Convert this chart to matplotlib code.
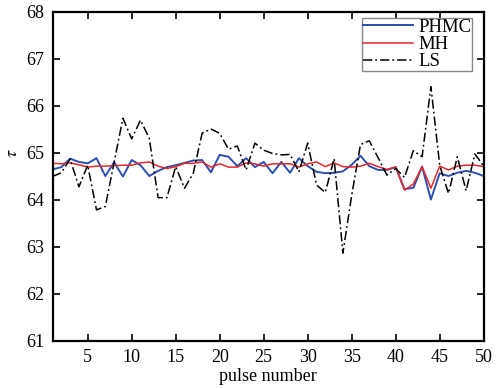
import matplotlib
matplotlib.use("Agg")
import matplotlib.pyplot as plt
import numpy as np

pulse = list(range(1, 51))

phmc = [64.65, 64.70, 64.88, 64.81, 64.78, 64.89, 64.51, 64.80, 64.50, 64.85,
        64.74, 64.51, 64.62, 64.70, 64.74, 64.79, 64.84, 64.85, 64.59, 64.96,
        64.92, 64.72, 64.89, 64.70, 64.81, 64.57, 64.81, 64.58, 64.89, 64.72,
        64.60, 64.57, 64.58, 64.61, 64.75, 64.94, 64.72, 64.64, 64.64, 64.70,
        64.23, 64.26, 64.71, 64.01, 64.57, 64.51, 64.58, 64.62, 64.58, 64.51]

mh = [64.78, 64.77, 64.79, 64.75, 64.70, 64.72, 64.72, 64.73, 64.74, 64.74,
      64.79, 64.81, 64.72, 64.67, 64.71, 64.78, 64.78, 64.81, 64.70, 64.77,
      64.70, 64.70, 64.79, 64.77, 64.72, 64.77, 64.77, 64.77, 64.70, 64.77,
      64.81, 64.71, 64.79, 64.71, 64.70, 64.72, 64.78, 64.71, 64.65, 64.70,
      64.21, 64.34, 64.71, 64.25, 64.72, 64.64, 64.72, 64.74, 64.74, 64.71]

ls = [64.50, 64.58, 64.87, 64.28, 64.74, 63.79, 63.86, 64.80, 65.74, 65.30,
      65.70, 65.31, 64.05, 64.05, 64.71, 64.25, 64.57, 65.42, 65.51, 65.42,
      65.08, 65.15, 64.64, 65.21, 65.06, 64.99, 64.96, 64.97, 64.60, 65.21,
      64.32, 64.16, 64.88, 62.87, 64.10, 65.18, 65.26, 64.90, 64.53, 64.67,
      64.48, 65.05, 64.92, 66.41, 64.74, 64.14, 64.92, 64.20, 64.98, 64.72]

xticks = [5, 10, 15, 20, 25, 30, 35, 40, 45, 50]
yticks = [61, 62, 63, 64, 65, 66, 67, 68]

plt.rcParams['font.family'] = ['Liberation Serif', 'DejaVu Serif']
plt.rcParams['mathtext.fontset'] = 'stix'

fig = plt.figure(figsize=(5.03, 3.88), dpi=100)
ax = fig.add_axes([52.5/503, 1 - 341/388, (483.7-52.5)/503, (341-12)/388])

ax.plot(pulse, phmc, color='#2a4fb0', lw=1.4, label='PHMC')
ax.plot(pulse, mh, color='#e8262a', lw=1.1, label='MH')
ax.plot(pulse, ls, color='black', lw=1.1, linestyle=(0, (6, 2, 1.2, 2)), label='LS')

ax.set_xlim(1, 50)
ax.set_ylim(61, 68)
ax.set_xticks(xticks)
ax.set_yticks(yticks)
ax.tick_params(direction='in', top=True, right=True, length=5, width=1.2,
               labelsize=13, pad=6)
for s in ax.spines.values():
    s.set_linewidth(1.6)

ax.set_xlabel('pulse number', fontsize=13, labelpad=1)
ax.set_ylabel(r'$\tau$', fontsize=13, rotation=90)
ax.yaxis.set_label_coords(-0.072, 0.571)

leg = ax.legend(loc='upper right', bbox_to_anchor=(0.973, 0.982),
                fontsize=13.5, handlelength=2.7,
                fancybox=False, edgecolor='#888888', framealpha=1,
                borderpad=0.05, labelspacing=0.0, handletextpad=0.25,
                borderaxespad=0.0)
leg.get_frame().set_linewidth(1.0)

fig.savefig('out.png', dpi=100)
